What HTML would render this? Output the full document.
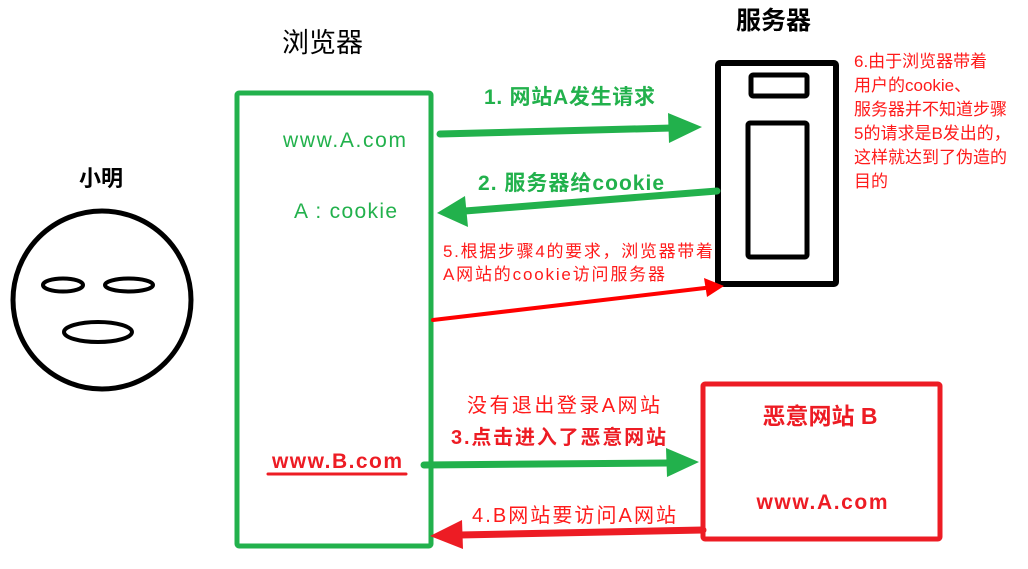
<!DOCTYPE html>
<html><head><meta charset="utf-8"><style>
body{margin:0;background:#fff;width:1028px;height:564px;overflow:hidden}
svg text{font-family:"Liberation Sans","Noto Sans CJK SC",sans-serif}
</style></head><body>
<svg width="1028" height="564" viewBox="0 0 1028 564" xmlns="http://www.w3.org/2000/svg">
<!-- face -->
<text x="79" y="186" font-size="22" font-weight="bold" fill="#000">小明</text>
<circle cx="102" cy="300" r="89" fill="none" stroke="#000" stroke-width="5"/>
<ellipse cx="63" cy="285" rx="20" ry="6.5" fill="none" stroke="#000" stroke-width="4"/>
<ellipse cx="129" cy="285" rx="24" ry="6.5" fill="none" stroke="#000" stroke-width="4"/>
<ellipse cx="98" cy="332" rx="34" ry="10" fill="none" stroke="#000" stroke-width="4"/>
<!-- browser -->
<text x="282" y="52" font-size="27" fill="#000">浏览器</text>
<rect x="237" y="93" width="194" height="453" rx="2" fill="none" stroke="#22b14c" stroke-width="5"/>
<text x="283" y="147" font-size="21" fill="#22b14c" textLength="123">www.A.com</text>
<text x="294" y="218" font-size="21" fill="#22b14c" textLength="103">A : cookie</text>
<text x="272" y="468" font-size="21" font-weight="bold" fill="#ed1c24" textLength="130">www.B.com</text>
<line x1="268" y1="474" x2="406" y2="474" stroke="#ed1c24" stroke-width="3" stroke-linecap="round"/>
<!-- server -->
<text x="736" y="29" font-size="25" font-weight="bold" fill="#000">服务器</text>
<rect x="718" y="63" width="118" height="221" rx="2" fill="none" stroke="#000" stroke-width="6"/>
<rect x="751" y="75" width="56" height="21" rx="2" fill="none" stroke="#000" stroke-width="5"/>
<rect x="748" y="123" width="59" height="134" rx="2" fill="none" stroke="#000" stroke-width="5"/>
<g font-size="17" fill="#ff1a1a">
<text x="854" y="67">6.由于浏览器带着</text>
<text x="854" y="91">用户的cookie、</text>
<text x="854" y="115">服务器并不知道步骤</text>
<text x="854" y="139">5的请求是B发出的，</text>
<text x="854" y="163">这样就达到了伪造的</text>
<text x="854" y="187">目的</text>
</g>
<!-- arrow 1 -->
<text x="484" y="104" font-size="21" font-weight="bold" fill="#22b14c" textLength="171">1. 网站A发生请求</text>
<line x1="440" y1="134" x2="672" y2="128" stroke="#22b14c" stroke-width="7" stroke-linecap="round"/>
<polygon points="668,113 702,127 669,143" fill="#22b14c"/>
<!-- arrow 2 -->
<text x="478" y="190" font-size="21" font-weight="bold" fill="#22b14c" textLength="186">2. 服务器给cookie</text>
<line x1="717" y1="191" x2="465" y2="211" stroke="#22b14c" stroke-width="7" stroke-linecap="round"/>
<polygon points="465,196 437,213 468,227" fill="#22b14c"/>
<!-- arrow 5 -->
<text x="443" y="257" font-size="17" fill="#ff1a1a" textLength="270">5.根据步骤4的要求，浏览器带着</text>
<text x="443" y="280" font-size="17" fill="#ff1a1a" textLength="222">A网站的cookie访问服务器</text>
<line x1="433" y1="320" x2="705" y2="288" stroke="#ff0000" stroke-width="4" stroke-linecap="round"/>
<polygon points="704,278 724,286 707,297" fill="#ff0000"/>
<!-- arrow 3 -->
<text x="467" y="412" font-size="20" fill="#ff1a1a" textLength="193">没有退出登录A网站</text>
<text x="451" y="444" font-size="20" font-weight="bold" fill="#ed1c24" textLength="215">3.点击进入了恶意网站</text>
<line x1="424" y1="465" x2="668" y2="463" stroke="#22b14c" stroke-width="7" stroke-linecap="round"/>
<polygon points="666,448 699,462 667,477" fill="#22b14c"/>
<!-- arrow 4 -->
<text x="472" y="522" font-size="20" fill="#ff1a1a" textLength="204">4.B网站要访问A网站</text>
<line x1="703" y1="530" x2="460" y2="535" stroke="#ed1c24" stroke-width="7" stroke-linecap="round"/>
<polygon points="462,520 430,536 463,549" fill="#ed1c24"/>
<!-- malicious site -->
<rect x="703" y="384" width="237" height="155" rx="2" fill="none" stroke="#ed1c24" stroke-width="5"/>
<text x="820" y="424" font-size="23" font-weight="bold" fill="#ed1c24" text-anchor="middle">恶意网站 B</text>
<text x="822" y="509" font-size="21" font-weight="bold" fill="#ed1c24" text-anchor="middle" textLength="131">www.A.com</text>
</svg>
</body></html>
